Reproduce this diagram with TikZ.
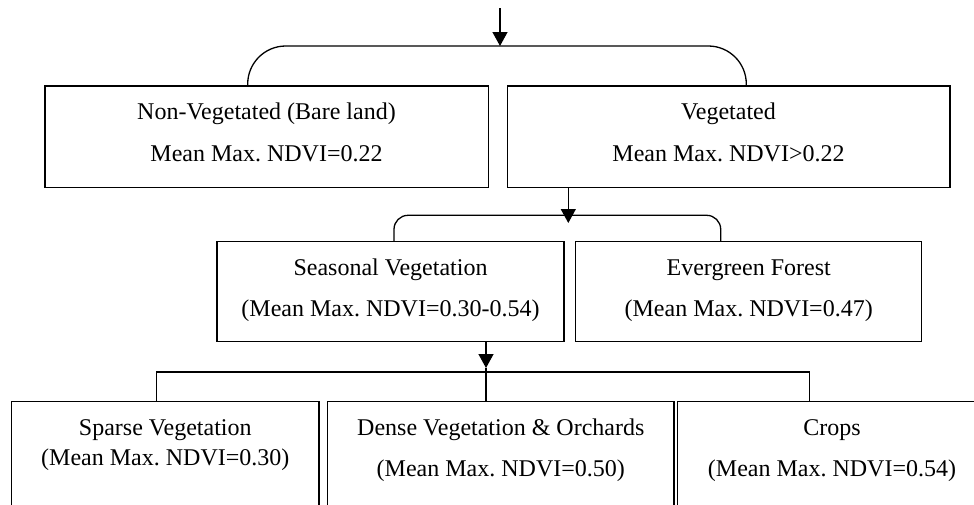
\documentclass[tikz,border=0pt]{standalone}
\usepackage{fontspec}
\setmainfont{Liberation Serif}
\usetikzlibrary{arrows.meta}
\frenchspacing
\begin{document}
\begin{tikzpicture}[x=1pt,y=-1pt,
  box/.style={draw, line width=1.1pt, rectangle, inner sep=0pt, outer sep=0pt},
  lbl/.style={anchor=base, font=\fontsize{24}{28}\selectfont, inner sep=0pt},
  conn/.style={line width=1.3pt},
  arr/.style={conn, -{Triangle[width=15pt,length=14pt]}}]
\useasboundingbox (0,0) rectangle (974,504);
\clip (0,0) rectangle (974,504);
% boxes
\node[box, minimum width=443.3pt, minimum height=101.7pt] (bare) at (266.65,136.85) {};
\node[box, minimum width=442.7pt, minimum height=101.7pt] (veg) at (728.65,136.85) {};
\node[box, minimum width=347pt, minimum height=100pt] (seas) at (390.5,291.7) {};
\node[box, minimum width=346pt, minimum height=100pt] (ever) at (748.7,291.7) {};
\node[box, minimum width=307.3pt, minimum height=118.3pt] (sparse) at (165.35,460.85) {};
\node[box, minimum width=346.3pt, minimum height=118.3pt] (dense) at (500.85,460.85) {};
\node[box, minimum width=309.4pt, minimum height=118.3pt] (crops) at (832,460.85) {};
% texts
\node[lbl] (bare1) at (266.5,119.3) {Non-Vegetated (Bare land)};
\node[lbl] (bare2) at (266.5,161.7) {Mean Max. NDVI=0.22};
\node[lbl] (veg1) at (728.5,119.5) {Vegetated};
\node[lbl] (veg2) at (728.5,161.7) {Mean Max. NDVI>0.22};
\node[lbl] (seas1) at (390.5,275.7) {Seasonal Vegetation};
\node[lbl] (seas2) at (390.5,316.7) {(Mean Max. NDVI=0.30-0.54)};
\node[lbl] (ever1) at (748.7,275.7) {Evergreen Forest};
\node[lbl] (ever2) at (748.7,316.7) {(Mean Max. NDVI=0.47)};
\node[lbl] (sp1) at (165.3,435.7) {Sparse Vegetation};
\node[lbl] (sp2) at (165.3,465) {(Mean Max. NDVI=0.30)};
\node[lbl] (de1) at (500.8,435.7) {Dense Vegetation \& Orchards};
\node[lbl] (de2) at (500.8,476.7) {(Mean Max. NDVI=0.50)};
\node[lbl] (cr1) at (832,435.7) {Crops};
\node[lbl] (cr2) at (832,476.7) {(Mean Max. NDVI=0.54)};
% top connector
\coordinate (topstart) at (500,8);
\coordinate (toptip) at (500,46);
\coordinate (tbl) at (247.7,46);
\coordinate (tbr) at (746.3,46);
\draw[arr] (topstart) -- (toptip);
\draw[conn, rounded corners=38pt] (bare.north -| tbl) -- (tbl) -- (tbr) -- (veg.north -| tbr);
% middle connector
\coordinate (mtip) at (568.3,223);
\coordinate (mbl) at (394,215.3);
\coordinate (mbr) at (720.7,215.3);
\draw[arr] (veg.south -| mtip) -- (mtip);
\draw[conn, rounded corners=14pt] (seas.north -| mbl) -- (mbl) -- (mbr) -- (ever.north -| mbr);
% bottom connector
\coordinate (btip) at (486,368);
\coordinate (bbl) at (156.7,372);
\coordinate (bbr) at (809.7,372);
\draw[arr] (seas.south -| btip) -- (btip);
\draw[conn] (sparse.north -| bbl) -- (bbl) -- (bbr) -- (crops.north -| bbr);
\draw[conn] (btip) -- (dense.north -| btip);
\end{tikzpicture}
\end{document}
